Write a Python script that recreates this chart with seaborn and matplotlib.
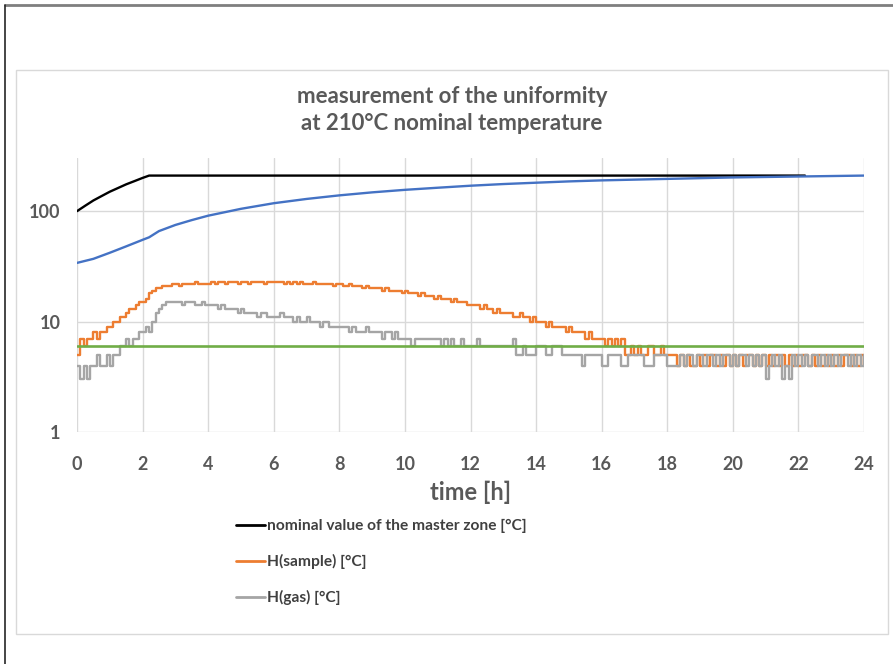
import numpy as np
import pandas as pd
import seaborn as sns
import matplotlib.pyplot as plt
from matplotlib.lines import Line2D
from matplotlib.patches import Rectangle

# sample times of the logger (every 6 min)
t_samples = np.arange(241) / 10.0

# nominal value of the master zone [°C]
t_nominal = [0, 0.25, 0.5, 0.75, 1.0, 1.25, 1.5, 1.75, 2.0, 2.2, 22.2]
nominal = [100, 112, 125, 137, 150, 162, 175, 187, 200, 210, 210]

# blue reference curve (no legend entry)
t_blue = [0, 0.5, 1, 1.5, 2, 2.2, 2.5, 3, 3.5, 4, 5, 6, 7, 8, 9, 10, 11, 12,
          13, 14, 15, 16, 17, 18, 19, 20, 21, 22, 23, 24]
blue = [34, 37, 42, 48, 55, 58, 66, 75, 83, 91, 105, 118, 129, 139, 148, 156,
        163, 170, 176, 181, 186, 190, 193, 196, 199, 202, 204, 206, 208, 210]

# H(sample) [°C], one row per hour
h_sample = [
    5, 7, 6, 7, 7, 8, 7, 8, 8, 9,
    9, 10, 10, 11, 11, 12, 13, 13, 14, 15,
    15, 16, 18, 19, 20, 20, 21, 21, 21, 22,
    22, 21, 22, 22, 22, 22, 23, 22, 22, 22,
    22, 23, 22, 23, 23, 22, 23, 23, 23, 22,
    23, 23, 22, 23, 23, 23, 23, 22, 23, 23,
    23, 23, 23, 22, 23, 22, 23, 22, 23, 22,
    22, 22, 23, 22, 22, 22, 22, 22, 21, 22,
    22, 21, 21, 22, 21, 21, 21, 20, 21, 20,
    20, 20, 20, 19, 20, 19, 19, 19, 19, 18,
    19, 18, 18, 18, 17, 18, 17, 17, 17, 16,
    17, 16, 16, 16, 15, 16, 15, 15, 15, 14,
    14, 14, 14, 13, 14, 13, 13, 12, 13, 12,
    12, 12, 12, 11, 11, 12, 11, 11, 10, 11,
    10, 10, 10, 9, 10, 9, 9, 9, 9, 8,
    9, 8, 8, 8, 8, 7, 8, 7, 7, 7,
    7, 6, 7, 6, 7, 6, 7, 5, 5, 6,
    5, 6, 5, 5, 6, 6, 5, 5, 6, 5,
    5, 5, 5, 4, 5, 4, 5, 4, 4, 5,
    4, 5, 4, 5, 5, 4, 5, 4, 5, 4,
    5, 4, 5, 4, 5, 5, 4, 5, 4, 5,
    4, 5, 4, 5, 4, 5, 4, 5, 4, 5,
    4, 5, 5, 4, 5, 4, 5, 4, 5, 4,
    5, 4, 5, 4, 5, 5, 4, 5, 4, 5,
    4,
]

# H(gas) [°C], one row per hour
h_gas = [
    4, 3, 4, 3, 4, 4, 5, 4, 4, 5,
    4, 5, 5, 6, 6, 7, 6, 7, 7, 8,
    8, 9, 8, 10, 12, 13, 14, 15, 15, 15,
    15, 15, 14, 15, 15, 15, 14, 14, 15, 14,
    14, 14, 14, 13, 14, 13, 13, 13, 13, 12,
    13, 12, 12, 12, 12, 11, 12, 12, 11, 11,
    11, 11, 12, 11, 11, 11, 10, 11, 10, 10,
    11, 10, 10, 10, 9, 10, 10, 9, 9, 9,
    9, 9, 9, 8, 9, 8, 8, 8, 9, 8,
    8, 8, 8, 7, 8, 8, 7, 8, 7, 7,
    7, 7, 6, 7, 7, 7, 7, 7, 7, 7,
    7, 6, 7, 6, 7, 6, 6, 7, 6, 6,
    6, 6, 7, 6, 6, 6, 6, 6, 6, 6,
    6, 6, 6, 7, 5, 5, 6, 5, 5, 5,
    6, 6, 6, 5, 5, 6, 6, 6, 5, 5,
    5, 5, 5, 5, 4, 5, 5, 5, 5, 5,
    4, 4, 5, 5, 5, 5, 4, 4, 5, 5,
    5, 5, 5, 4, 4, 4, 5, 5, 5, 5,
    4, 4, 4, 4, 5, 4, 5, 5, 4, 5,
    5, 4, 5, 5, 4, 5, 4, 5, 5, 4,
    5, 4, 5, 5, 4, 5, 4, 5, 4, 5,
    3, 4, 5, 4, 5, 3, 4, 3, 5, 4,
    5, 4, 5, 4, 5, 5, 4, 5, 4, 5,
    4, 5, 4, 5, 5, 4, 5, 4, 5, 4,
    5,
]

# green limit line
t_limit = [0, 24]
limit = [6, 6]

c_black = "#000000"
c_blue = "#4472c4"
c_orange = "#ed7d31"
c_gray = "#a5a5a5"
c_green = "#70ad47"
txt = "#595959"

sns.set_style("white")
plt.rcParams['font.family'] = ['Lato', 'DejaVu Sans']

fig = plt.figure(figsize=(8.93, 6.64), dpi=100)
ax = fig.add_axes([77 / 893, 1 - 432 / 664, 787 / 893, 274 / 664])

sns.lineplot(x=t_samples, y=h_sample, color=c_orange, lw=1.7,
             drawstyle="steps-post", ax=ax)
sns.lineplot(x=t_samples, y=h_gas, color=c_gray, lw=1.7,
             drawstyle="steps-post", ax=ax)
sns.lineplot(x=t_nominal, y=nominal, color=c_black, lw=1.7, ax=ax)
sns.lineplot(x=t_blue, y=blue, color=c_blue, lw=1.7, ax=ax)
sns.lineplot(x=t_limit, y=limit, color=c_green, lw=1.9, ax=ax)

ax.set_yscale("log")
ax.set_ylim(1, 303)
ax.set_xlim(0, 24)
ax.set_yticks([1, 10, 100])
ax.set_yticklabels(["1", "10", "100"])
ax.yaxis.set_minor_locator(plt.NullLocator())
ax.set_xticks(range(0, 25, 2))
ax.grid(True, color="#d9d9d9", lw=1)
ax.set_axisbelow(True)
for s in ax.spines.values():
    s.set_visible(False)
ax.tick_params(axis="both", length=0, labelsize=13, labelcolor=txt)
ax.tick_params(axis="y", pad=12)
ax.tick_params(axis="x", pad=17)
for lab in ax.get_xticklabels() + ax.get_yticklabels():
    lab.set_fontweight("bold")
ax.set_xlabel("")
ax.set_ylabel("")

fig.text(471 / 893, 1 - 492 / 664, "time [h]", ha="center", va="center",
         fontsize=17, fontweight="bold", color=txt)
fig.text(452 / 893, 1 - 110 / 664,
         "measurement of the uniformity\nat 210°C nominal temperature",
         ha="center", va="center", fontsize=16, fontweight="bold",
         color=txt, linespacing=1.32)

legend_elements = [
    Line2D([0], [0], color=c_black, lw=2, label="nominal value of the master zone [°C]"),
    Line2D([0], [0], color=c_orange, lw=2, label="H(sample) [°C]"),
    Line2D([0], [0], color=c_gray, lw=2, label="H(gas) [°C]"),
]
leg = fig.legend(handles=legend_elements, loc="upper left",
                 bbox_to_anchor=(236 / 893, 1 - 519 / 664), frameon=False,
                 prop={"size": 11.2, "weight": "bold"}, handlelength=1.85,
                 handletextpad=0.15, labelspacing=1.35, borderpad=0,
                 borderaxespad=0)
for t in leg.get_texts():
    t.set_color("#404040")

# chart frame and page edges
fig.add_artist(Rectangle((16 / 893, 1 - 634 / 664), 872 / 893, 564 / 664,
                         transform=fig.transFigure, fill=False,
                         ec="#d9d9d9", lw=1))
fig.add_artist(Line2D([5 / 893, 1], [1 - 5 / 664, 1 - 5 / 664],
                      transform=fig.transFigure, color="#7f7f7f", lw=2))
fig.add_artist(Line2D([5 / 893, 5 / 893], [0, 1 - 5 / 664],
                      transform=fig.transFigure, color="#262626", lw=1.2))

fig.savefig("out.png", dpi=100)
